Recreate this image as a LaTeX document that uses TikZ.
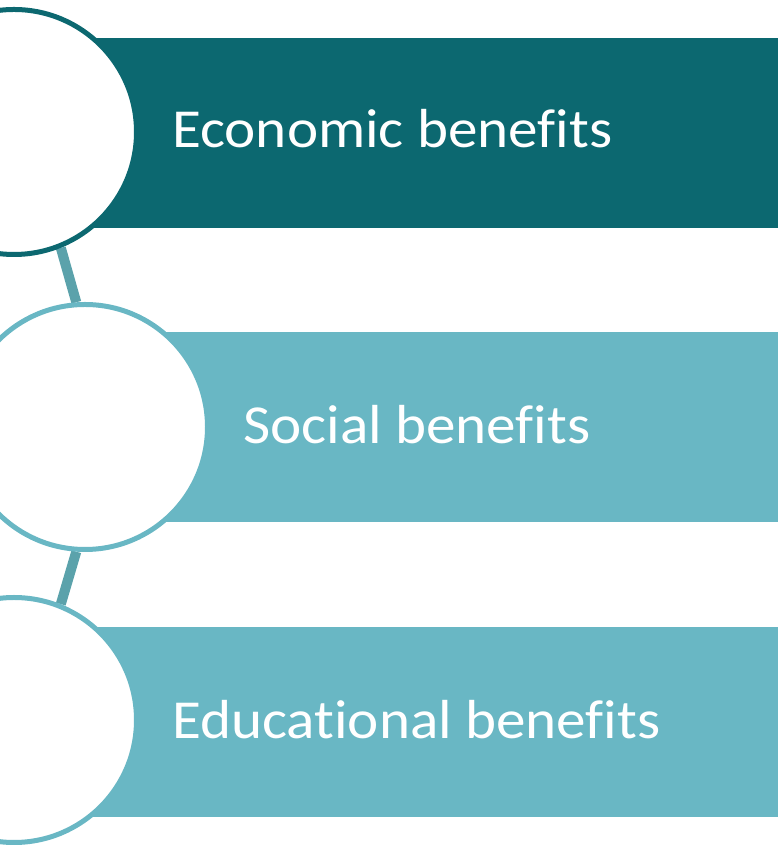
\documentclass[tikz,border=0pt]{standalone}
\usepackage{fontspec}
\setmainfont[Ligatures={NoCommon,NoContextual},FakeStretch=1.075]{Carlito}
\definecolor{darkteal}{HTML}{0C6870}
\definecolor{lightteal}{HTML}{69B7C4}
\definecolor{linkteal}{HTML}{5BA2AB}
\pgfdeclarelayer{barlayer}
\pgfdeclarelayer{linklayer}
\pgfsetlayers{barlayer,linklayer,main}
\tikzset{
  bar/.style={fill=#1, draw=none},
  ring/.style={circle, draw=#1, fill=white, line width=5pt, minimum size=245pt, inner sep=0pt},
  label/.style={anchor=base west, text=white, font=\fontsize{55pt}{60pt}\selectfont, inner sep=0pt},
  link/.style={draw=linkteal, line width=10pt}
}
\begin{document}
\begin{tikzpicture}[x=1pt,y=1pt]
\useasboundingbox (0,0) rectangle (777,845);
\clip (0,0) rectangle (777,845);
\begin{pgfonlayer}{barlayer}
\fill[bar=darkteal] (60,845-38) rectangle (790,845-228);
\fill[bar=lightteal] (150,845-332) rectangle (790,845-522);
\fill[bar=lightteal] (60,845-627) rectangle (790,845-817);
\end{pgfonlayer}
\node[ring=darkteal] (c1) at (14,845-132) {};
\node[ring=lightteal] (c2) at (85,845-427) {};
\node[ring=lightteal] (c3) at (14,845-720) {};
\begin{pgfonlayer}{linklayer}
\draw[link] (c1.-68) -- (c2.94);
\draw[link] (c2.-94) -- (c3.68.5);
\end{pgfonlayer}
\node[label] (t1) at (172,845-148) {Economic benefits};
\node[label] (t2) at (243,845-444) {Social benefits};
\node[label] (t3) at (172,845-739) {Educational benefits};
\end{tikzpicture}
\end{document}
